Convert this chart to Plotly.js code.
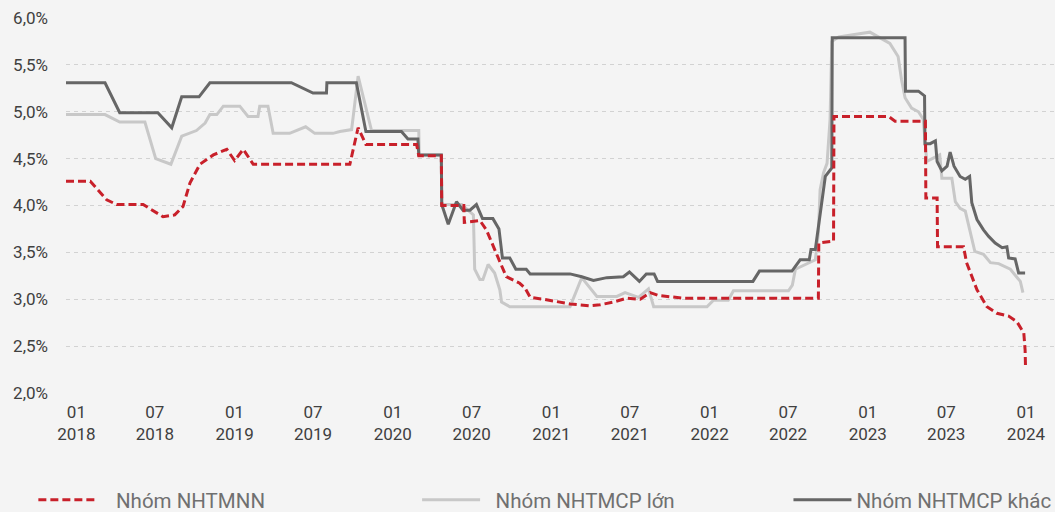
<!DOCTYPE html>
<html>
<head>
<meta charset="utf-8">
<script src="https://cdn.plot.ly/plotly-3.0.1.min.js"></script>
<style>
html,body{margin:0;padding:0;background:#F4F4F4;}
#chart{width:1055px;height:512px;}
</style>
</head>
<body>
<div id="chart"></div>
<script>
// Nhóm NHTMNN (red dashed)
const redDates = ["2017-12-08","2018-02-02","2018-03-12","2018-04-04","2018-06-04","2018-07-20","2018-08-16","2018-09-04","2018-09-20","2018-10-13","2018-11-13","2018-12-14","2019-01-01","2019-01-21","2019-02-13","2019-09-24","2019-10-13","2019-10-31","2020-02-25","2020-03-01","2020-04-22","2020-04-23","2020-06-13","2020-06-14","2020-07-20","2020-08-04","2020-09-04","2020-09-19","2020-10-20","2020-11-01","2020-11-13","2020-12-13","2021-02-13","2021-03-31","2021-04-23","2021-05-24","2021-06-23","2021-07-25","2021-08-17","2021-09-05","2021-11-02","2022-09-09","2022-09-10","2022-10-14","2022-10-15","2023-02-18","2023-03-05","2023-05-14","2023-05-15","2023-06-10","2023-06-11","2023-08-10","2023-08-17","2023-09-10","2023-10-03","2023-10-26","2023-11-22","2023-12-11","2023-12-27","2023-12-30","2023-12-31"];
const redVals = [4.26,4.26,4.06,4.01,4.01,3.88,3.90,3.99,4.24,4.44,4.54,4.60,4.48,4.60,4.44,4.44,4.83,4.65,4.65,4.53,4.53,4.00,4.00,3.82,3.84,3.74,3.40,3.24,3.17,3.12,3.02,3.00,2.95,2.93,2.94,2.97,3.01,3.00,3.07,3.04,3.01,3.01,3.60,3.62,4.95,4.95,4.90,4.90,4.08,4.08,3.56,3.56,3.39,3.10,2.92,2.85,2.82,2.76,2.64,2.46,2.27];

// Nhóm NHTMCP lớn (light gray)
const lightDates = ["2017-12-08","2018-03-08","2018-04-11","2018-06-08","2018-07-03","2018-08-07","2018-09-01","2018-10-05","2018-10-25","2018-11-05","2018-11-21","2018-12-06","2019-01-13","2019-02-01","2019-02-24","2019-02-28","2019-03-19","2019-03-31","2019-05-08","2019-06-14","2019-07-05","2019-08-16","2019-09-01","2019-09-28","2019-10-13","2019-11-13","2020-03-01","2020-03-02","2020-04-22","2020-04-23","2020-06-08","2020-07-05","2020-07-08","2020-07-20","2020-07-27","2020-08-08","2020-08-23","2020-09-04","2020-09-08","2020-09-27","2021-02-13","2021-03-12","2021-04-16","2021-06-01","2021-06-20","2021-07-01","2021-07-21","2021-08-13","2021-08-25","2021-12-26","2022-01-10","2022-02-13","2022-02-25","2022-07-02","2022-07-11","2022-07-18","2022-09-02","2022-09-09","2022-09-13","2022-09-21","2022-09-29","2022-10-06","2022-10-10","2022-10-26","2023-01-06","2023-02-21","2023-03-12","2023-03-20","2023-03-28","2023-04-12","2023-04-28","2023-05-09","2023-05-17","2023-06-16","2023-06-21","2023-07-14","2023-07-22","2023-08-02","2023-08-14","2023-09-05","2023-09-25","2023-10-11","2023-10-30","2023-11-26","2023-12-07","2023-12-19","2023-12-25"];
const lightVals = [4.97,4.97,4.89,4.89,4.50,4.44,4.74,4.80,4.88,4.97,4.97,5.06,5.06,4.95,4.95,5.06,5.06,4.77,4.77,4.84,4.77,4.77,4.79,4.81,5.38,4.80,4.80,4.54,4.54,4.01,4.01,3.90,3.32,3.21,3.21,3.37,3.28,3.10,2.97,2.92,2.92,3.23,3.03,3.03,3.07,3.05,3.02,3.11,2.92,2.92,2.99,2.99,3.09,3.09,3.15,3.32,3.42,3.71,4.17,4.35,4.45,4.92,5.75,5.80,5.85,5.73,5.59,5.34,5.15,5.04,5.00,4.92,4.47,4.54,4.29,4.29,4.04,3.97,3.94,3.51,3.48,3.39,3.38,3.32,3.26,3.19,3.07];

// Nhóm NHTMCP khác (dark gray)
const darkDates = ["2017-12-08","2018-03-08","2018-04-11","2018-07-08","2018-08-09","2018-09-01","2018-10-11","2018-10-25","2018-11-05","2019-05-12","2019-07-01","2019-08-01","2019-08-02","2019-10-09","2019-10-31","2020-01-21","2020-02-05","2020-02-28","2020-03-01","2020-04-22","2020-04-23","2020-05-08","2020-05-27","2020-06-11","2020-06-27","2020-07-12","2020-07-26","2020-08-19","2020-09-02","2020-09-10","2020-09-27","2020-10-11","2020-11-04","2020-11-13","2021-02-13","2021-03-12","2021-04-08","2021-05-09","2021-06-16","2021-06-30","2021-07-23","2021-08-08","2021-08-26","2021-09-03","2022-04-11","2022-04-26","2022-07-10","2022-07-29","2022-08-19","2022-08-23","2022-09-02","2022-09-25","2022-10-06","2022-10-10","2022-10-11","2023-03-28","2023-03-29","2023-04-28","2023-05-12","2023-05-13","2023-05-25","2023-06-06","2023-06-10","2023-06-21","2023-07-03","2023-07-10","2023-07-19","2023-08-02","2023-08-14","2023-08-24","2023-08-29","2023-09-10","2023-09-25","2023-10-07","2023-10-22","2023-11-07","2023-11-18","2023-11-22","2023-12-07","2023-12-15","2023-12-30"];
const darkVals = [5.31,5.31,4.99,4.99,4.83,5.16,5.16,5.24,5.31,5.31,5.20,5.20,5.31,5.31,4.79,4.79,4.71,4.71,4.54,4.54,4.01,3.80,4.04,3.95,3.95,4.01,3.86,3.86,3.75,3.44,3.44,3.32,3.32,3.27,3.27,3.24,3.20,3.23,3.24,3.29,3.19,3.27,3.27,3.19,3.19,3.30,3.30,3.42,3.42,3.53,3.53,4.31,4.38,4.40,5.79,5.79,5.22,5.22,5.17,4.66,4.66,4.69,4.47,4.37,4.42,4.57,4.42,4.31,4.28,4.31,4.03,3.85,3.74,3.67,3.60,3.55,3.56,3.44,3.43,3.28,3.28];

const xTickVals = ["2018-01-01","2018-07-01","2019-01-01","2019-07-01","2020-01-01","2020-07-01","2021-01-01","2021-07-01","2022-01-01","2022-07-01","2023-01-01","2023-07-01","2024-01-01"];
const xTickText = ["01<br>2018","07<br>2018","01<br>2019","07<br>2019","01<br>2020","07<br>2020","01<br>2021","07<br>2021","01<br>2022","07<br>2022","01<br>2023","07<br>2023","01<br>2024"];
const yTickVals = [2.0,2.5,3.0,3.5,4.0,4.5,5.0,5.5,6.0];
const yTickText = ["2,0%","2,5%","3,0%","3,5%","4,0%","4,5%","5,0%","5,5%","6,0%"];
const seriesNames = ["Nhóm NHTMNN","Nhóm NHTMCP lớn","Nhóm NHTMCP khác"];

const traces = [
  {x: lightDates, y: lightVals, name: "\u2002" + seriesNames[1], type: "scatter", mode: "lines",
   line: {color: "#C8C8C8", width: 3}, legend: "legend2"},
  {x: darkDates, y: darkVals, name: seriesNames[2], type: "scatter", mode: "lines",
   line: {color: "#666666", width: 3}, legend: "legend3"},
  {x: redDates, y: redVals, name: "\u2002\u2009" + seriesNames[0], type: "scatter", mode: "lines",
   line: {color: "#C8202A", width: 3, dash: "8px,4px"}, legend: "legend"}
];

const legBase = {orientation: "h", yanchor: "middle", xanchor: "left", y: -0.285,
  bgcolor: "rgba(0,0,0,0)", font: {family: "Roboto, sans-serif", size: 20.5, color: "#707070"}, itemwidth: 58};

const layout = {
  width: 1055, height: 512,
  paper_bgcolor: "#F4F4F4", plot_bgcolor: "#F4F4F4",
  margin: {l: 66, r: 0, t: 18, b: 119, autoexpand: false},
  font: {family: "Roboto, sans-serif", size: 17, color: "#404040"},
  xaxis: {type: "date", range: ["2017-12-08", "2024-03-08"], tickvals: xTickVals, ticktext: xTickText,
    showgrid: false, zeroline: false, showline: false, ticks: "", ticklabelstandoff: 7, automargin: false,
    tickfont: {size: 17, color: "#404040"}},
  yaxis: {range: [1.999, 6.001], tickvals: yTickVals, ticktext: yTickText, automargin: false,
    showgrid: true, gridcolor: "#D2D2D2", gridwidth: 1, griddash: "4px,4px", zeroline: false, showline: false,
    ticks: "", ticklabelstandoff: 17, tickfont: {size: 17, color: "#404040"}},
  showlegend: true,
  legend: Object.assign({}, legBase, {x: -0.033}),
  legend2: Object.assign({}, legBase, {x: 0.355}),
  legend3: Object.assign({}, legBase, {x: 0.7305})
};

Plotly.newPlot("chart", traces, layout, {displayModeBar: false, staticPlot: true});
</script>
</body>
</html>
